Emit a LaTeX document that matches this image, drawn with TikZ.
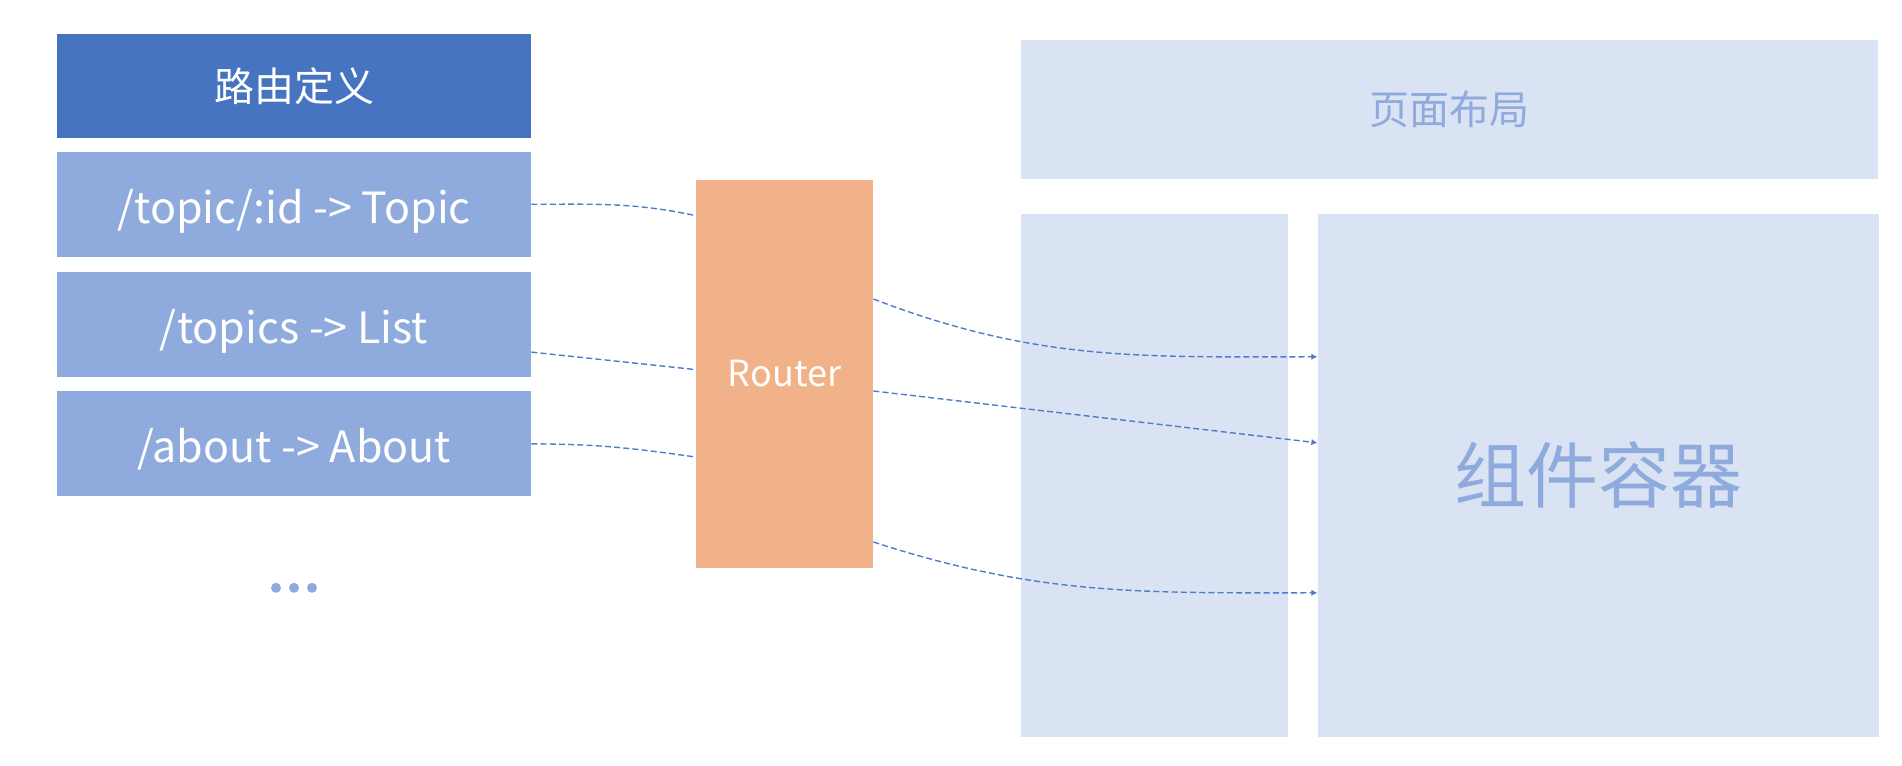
\documentclass[tikz,border=0pt]{standalone}
\usepackage{fontspec}
\setmainfont{Noto Sans CJK SC}
\usepackage{tikz}
\usetikzlibrary{arrows.meta, positioning, calc}
\definecolor{headblue}{HTML}{4674C1}
\definecolor{routeblue}{HTML}{8FAADC}
\definecolor{routerorange}{HTML}{F2B289}
\definecolor{paneblue}{HTML}{DAE3F3}
\definecolor{linkblue}{HTML}{4F7BC8}

\begin{document}
\begin{tikzpicture}[
  x=0.5pt, y=0.5pt,
  block/.style={rectangle, inner sep=0pt, align=center},
  head/.style={block, fill=headblue, text=white, minimum width=237pt,
               minimum height=52pt, font=\fontsize{20pt}{24pt}\selectfont},
  route/.style={block, fill=routeblue, text=white, minimum width=237pt,
                minimum height=52.5pt, text height=19pt, text depth=0pt,
                font=\fontsize{21.5pt}{26pt}\selectfont},
  pane/.style={block, fill=paneblue, text=routeblue},
  link/.style={dashed, dash pattern=on 3pt off 1.6pt, line width=0.7pt,
               draw=linkblue},
  >={Latex[length=3pt, width=3.2pt]}
]
\useasboundingbox (0,0) rectangle (1902,766);

% route table
\node[head] (routes) at (294,680) {路由定义};
\node[route, below=6.5pt of routes] (topic)  {/topic/:id -> Topic};
\node[route, below=7pt of topic]    (topics) {/topics -> List};
\node[route, below=7pt of topics]   (about)  {/about -> About};
\foreach \dx in {-18,0,18}
  \fill[routeblue] ($(about.south)+(\dx,-91)$) circle (2.5pt);

% router
\node[block, fill=routerorange, text=white, minimum width=88.5pt,
      minimum height=194pt, font=\fontsize{18pt}{22pt}\selectfont]
      (router) at (784.5,392) {Router};

% page layout
\node[pane, minimum width=428.5pt, minimum height=69.5pt,
      font=\fontsize{20pt}{24pt}\selectfont] (layout) at (1449.5,656.5) {页面布局};
\node[pane, minimum width=133.5pt, minimum height=261.5pt,
      below=17pt of layout.south west, anchor=north west] (side) {};
\node[pane, minimum width=280.5pt, minimum height=261.5pt,
      font=\fontsize{36pt}{42pt}\selectfont,
      right=14.5pt of side] (view) {组件容器};

\draw[link] (topic.east) to[out=0, in=168] ([yshift=-18pt]router.north west);
\draw[link] ([yshift=-14pt]topics.east) -- ([yshift=-95pt]router.north west);
\draw[link] (about.east) to[out=0, in=172] ([yshift=-41.5pt]router.west);

\draw[link, ->] ([yshift=37.5pt]router.east) to[out=-21, in=180] ([yshift=59.25pt]view.west);
\draw[link, ->] ([yshift=-8.5pt]router.east) -- ([yshift=16.25pt]view.west);
\draw[link, ->] ([yshift=-84pt]router.east) to[out=-18, in=180] ([yshift=-58.75pt]view.west);
\end{tikzpicture}
\end{document}
